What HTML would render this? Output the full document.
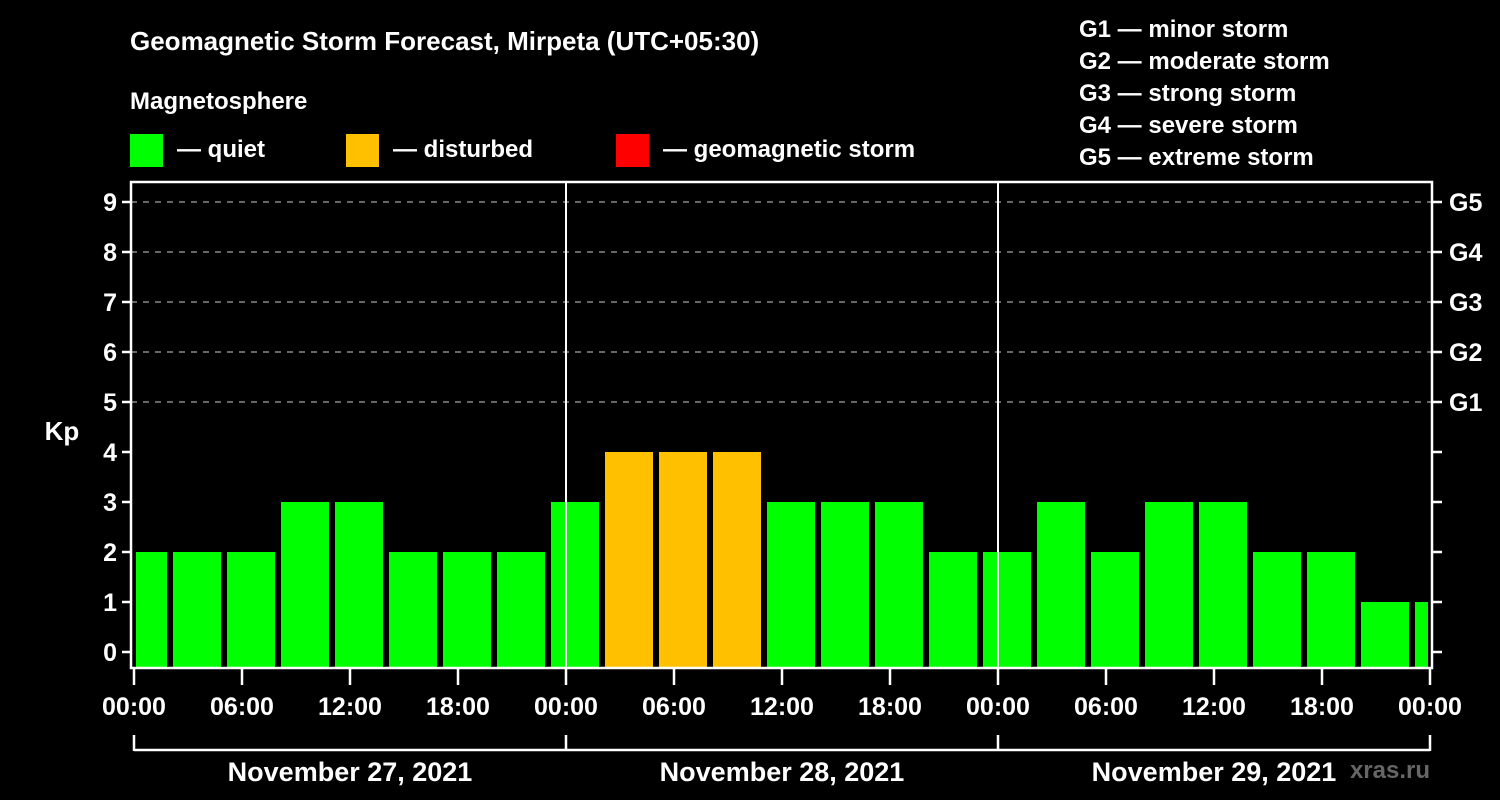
<!DOCTYPE html>
<html><head><meta charset="utf-8"><style>
html,body{margin:0;padding:0;background:#000;}
svg{display:block;font-family:"Liberation Sans",Arial,sans-serif;font-weight:bold;}
</style></head><body>
<svg id="c" width="1500" height="800" viewBox="0 0 1500 800">
<rect width="1500" height="800" fill="#000"/>
<text x="130" y="50" fill="#fff" font-size="26">Geomagnetic Storm Forecast, Mirpeta (UTC+05:30)</text>
<text x="130" y="109" fill="#fff" font-size="24">Magnetosphere</text>
<g><rect x="130" y="134" width="33" height="33" fill="#00ff00"/><text x="177" y="157" fill="#fff" font-size="24">— quiet</text></g>
<g><rect x="346" y="134" width="33" height="33" fill="#ffc000"/><text x="393" y="157" fill="#fff" font-size="24">— disturbed</text></g>
<g><rect x="616" y="134" width="33" height="33" fill="#ff0000"/><text x="663" y="157" fill="#fff" font-size="24">— geomagnetic storm</text></g>
<g fill="#fff" font-size="24">
<text x="1079" y="37">G1 — minor storm</text>
<text x="1079" y="69">G2 — moderate storm</text>
<text x="1079" y="101">G3 — strong storm</text>
<text x="1079" y="133">G4 — severe storm</text>
<text x="1079" y="165">G5 — extreme storm</text>
</g>
<text x="62" y="440" fill="#fff" font-size="26" text-anchor="middle">Kp</text>
<text x="1430" y="778" fill="#666" font-size="24" text-anchor="end">xras.ru</text>
<g id="grid"></g><g id="bars"></g><g id="axes"></g>
</svg>
<script>
const kpValues=[2,2,2,3,3,2,2,2,3,4,4,4,3,3,3,2,2,3,2,3,3,2,2,1,1];
const yTicks=[0,1,2,3,4,5,6,7,8,9];
const gLabels=["G1","G2","G3","G4","G5"];
const xTickLabels=["00:00","06:00","12:00","18:00","00:00","06:00","12:00","18:00","00:00","06:00","12:00","18:00","00:00"];
const dayLabels=["November 27, 2021","November 28, 2021","November 29, 2021"];
const NS="http://www.w3.org/2000/svg";
const L=131,R=1432,T=182,B=668;
const X0=134,PH=18;
const xs=h=>X0+h*PH;
const ys=v=>652-v*50;
function mk(p,tag,a){const e=document.createElementNS(NS,tag);for(const k in a)e.setAttribute(k,a[k]);p.appendChild(e);return e;}
const grid=document.getElementById('grid'),bars=document.getElementById('bars'),axes=document.getElementById('axes');
for(let v=5;v<=9;v++){const g=mk(grid,'line',{x1:L,x2:R,y1:ys(v),y2:ys(v),stroke:'#888','stroke-dasharray':'6,6','stroke-width':1.5});

}
kpValues.forEach((v,i)=>{
 const s=-1+3*i,e=s+3;
 let x1=Math.max(xs(s)+3,L+5),x2=Math.min(xs(e)-3,R-4);
 const col=v>=5?'#ff0000':(v>=4?'#ffc000':'#00ff00');
 const r=mk(bars,'rect',{x:x1,y:ys(v),width:x2-x1,height:B-ys(v),fill:col});
 
 
});
[1,2].forEach(d=>{const l=mk(axes,'line',{x1:xs(24*d),x2:xs(24*d),y1:T,y2:B,stroke:'#fff','stroke-width':2});

});
const fr=mk(axes,'rect',{x:L,y:T,width:R-L,height:B-T,fill:'none',stroke:'#fff','stroke-width':2.5});


yTicks.forEach(v=>{
 mk(axes,'line',{x1:L-9,x2:L,y1:ys(v),y2:ys(v),stroke:'#fff','stroke-width':2.5});
 mk(axes,'line',{x1:R,x2:R+10,y1:ys(v),y2:ys(v),stroke:'#fff','stroke-width':2.5});
 const t=mk(axes,'text',{x:L-14,y:ys(v)+9,fill:'#fff','font-size':25,'text-anchor':'end'});t.textContent=v;
 
 
});
gLabels.forEach((g,i)=>{const t=mk(axes,'text',{x:R+17,y:ys(5+i)+9,fill:'#fff','font-size':25});t.textContent=g;
 
 });
xTickLabels.forEach((lb,i)=>{const x=xs(6*i);
 mk(axes,'line',{x1:x,x2:x,y1:B,y2:B+17,stroke:'#fff','stroke-width':2.5});
 const t=mk(axes,'text',{x:x,y:715,fill:'#fff','font-size':25,'text-anchor':'middle'});t.textContent=lb;
 
 });
mk(axes,'line',{x1:xs(0),x2:xs(72),y1:750,y2:750,stroke:'#fff','stroke-width':2.5});
for(let d=0;d<=3;d++)mk(axes,'line',{x1:xs(24*d),x2:xs(24*d),y1:735,y2:751,stroke:'#fff','stroke-width':2.5});
dayLabels.forEach((lb,i)=>{const t=mk(axes,'text',{x:xs(24*i+12),y:781,fill:'#fff','font-size':27,'text-anchor':'middle'});t.textContent=lb;
 
 });
</script>
</body></html>
